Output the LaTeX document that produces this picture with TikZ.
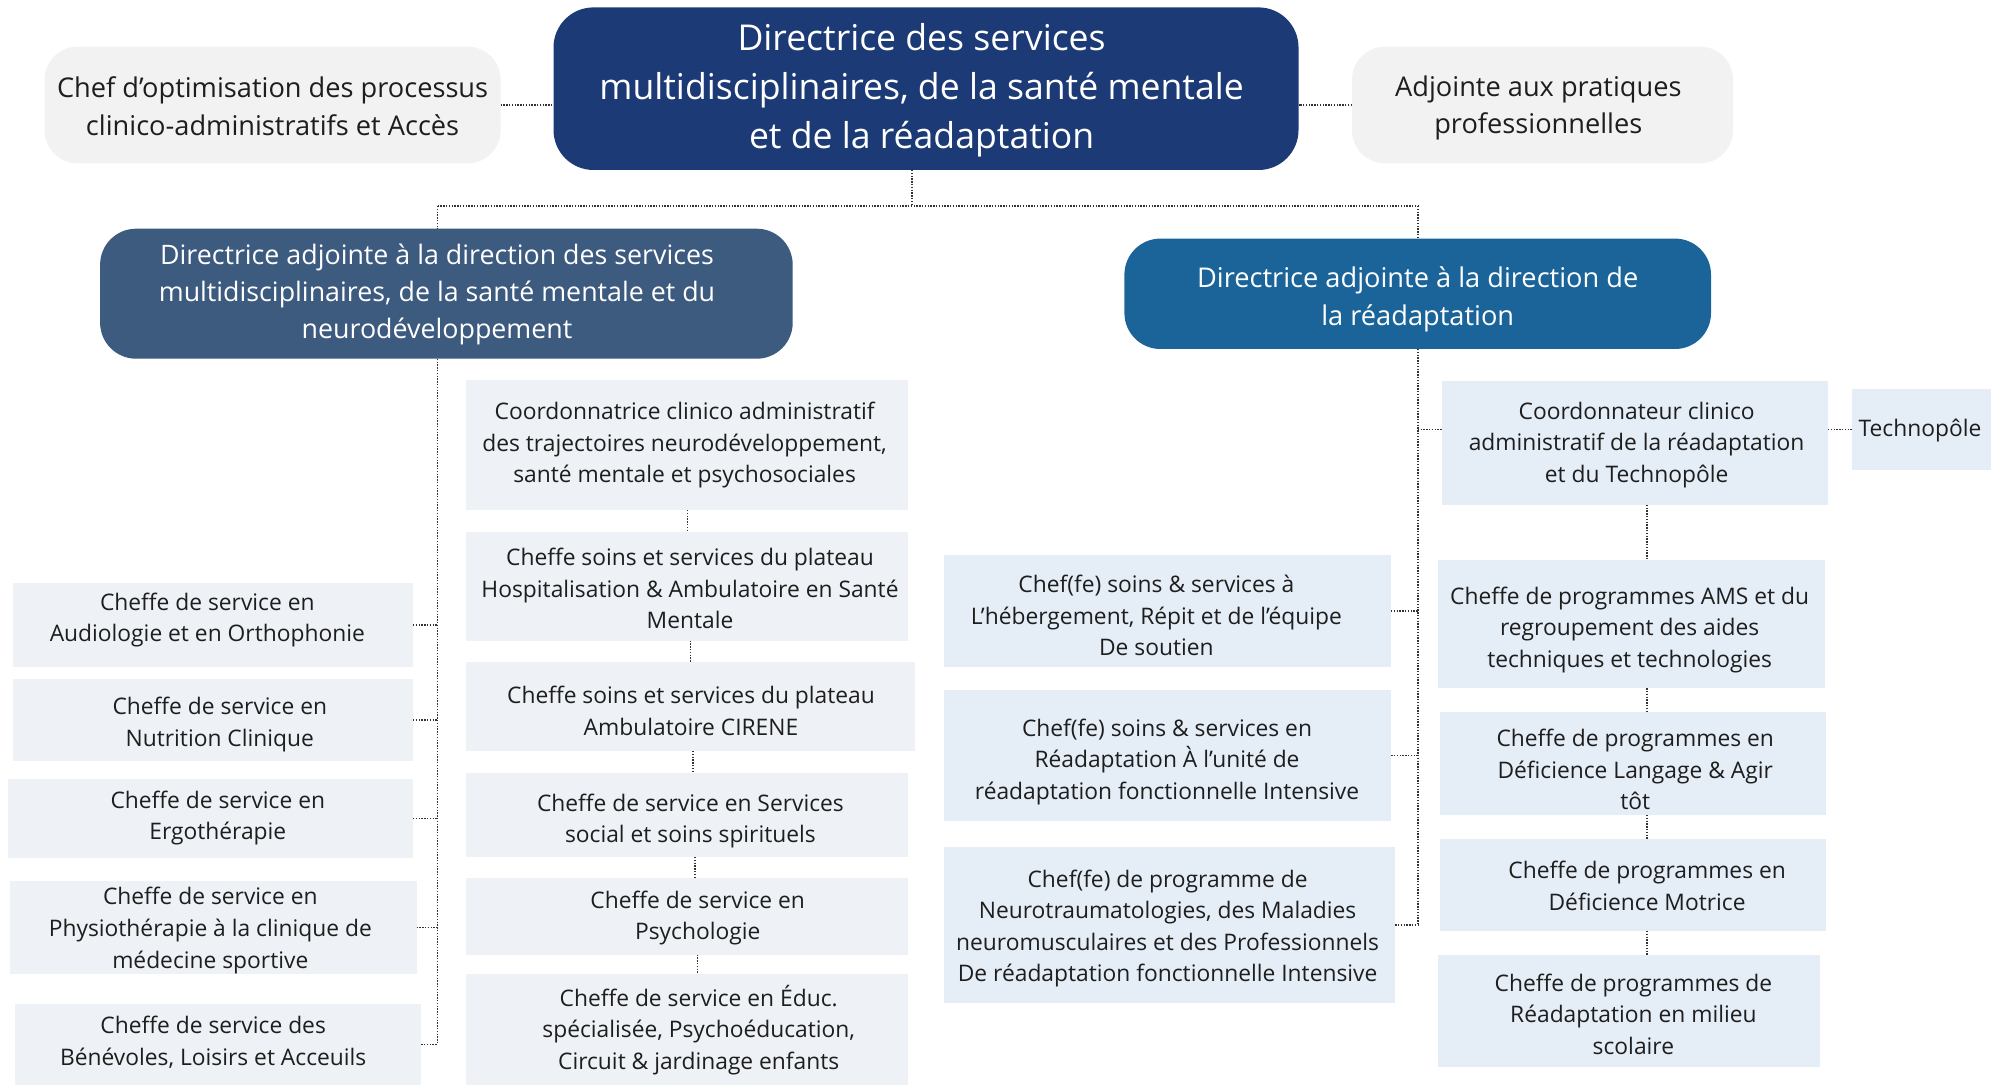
\documentclass[tikz,border=0pt]{standalone}
\usepackage{fontspec}
\setmainfont{Open Sans}
\definecolor{navy}{HTML}{1C3A75}
\definecolor{steel}{HTML}{3D5A7F}
\definecolor{ocean}{HTML}{1B6499}
\definecolor{grayB}{HTML}{F2F2F2}
\definecolor{boxL}{HTML}{EEF2F6}
\definecolor{boxR}{HTML}{E5EDF7}
\definecolor{textD}{HTML}{1E1E1E}
\begin{document}
\begin{tikzpicture}[x=0.5pt,y=-0.5pt,
  conn/.style={draw=black!80, line width=0.8pt, dash pattern=on 0.7pt off 0.7pt},
  shape base/.style={draw=none, inner sep=0pt, outer sep=0pt},
  lbox/.style={shape base, fill=boxL},
  rbox/.style={shape base, fill=boxR},
  gbox/.style={shape base, fill=grayB, rounded corners=16.5pt},
  dbox/.style={shape base, rounded corners=18pt},
  txt/.style={align=center, inner sep=0pt, text=textD, yshift=-1pt, font=\fontsize{11.4pt}{15.8pt}\selectfont},
  mtxt/.style={align=center, inner sep=0pt, text=textD, yshift=-1.2pt, font=\fontsize{13.6pt}{18.7pt}\selectfont},
  wtxt/.style={align=center, inner sep=0pt, text=white, yshift=-1.3pt, font=\fontsize{13.6pt}{18.7pt}\selectfont},
  ttxt/.style={align=center, inner sep=0pt, text=white, yshift=-1.5pt, font=\fontsize{17.8pt}{24.5pt}\selectfont}]
\fill[white] (0,0) rectangle (2000,1085);
\useasboundingbox (0,0) rectangle (2000,1085);

% ---------- top row ----------
\node[gbox, minimum width=228pt, minimum height=58.3pt] (opt) at (272.6,105) {};
\node[mtxt, yshift=0.7pt] (optT) at (272.6,105.3) {Chef d’optimisation des processus\\clinico-administratifs et Accès};
\node[dbox, fill=navy, rounded corners=20pt, minimum width=372.5pt, minimum height=81.3pt] (top) at (926,88.7) {};
\node[ttxt] (topT) at (921.6,87.5) {Directrice des services\\multidisciplinaires, de la santé mentale\\et de la réadaptation};
\node[gbox, minimum width=190.5pt, minimum height=58.3pt] (adj) at (1542.5,105) {};
\node[mtxt] (adjT) at (1538.3,105.8) {Adjointe aux pratiques\\professionnelles};

% ---------- deputy directors ----------
\node[dbox, fill=steel, minimum width=346.3pt, minimum height=65pt] (ladj) at (446.4,293.7) {};
\node[wtxt, font=\fontsize{13.4pt}{18.5pt}\selectfont] (ladjT) at (437,291.7) {Directrice adjointe à la direction des services\\multidisciplinaires, de la santé mentale et du\\neurodéveloppement};
\node[dbox, fill=ocean, minimum width=293.3pt, minimum height=55.2pt] (radj) at (1417.7,293.8) {};
\node[wtxt, yshift=-0.5pt, font=\fontsize{13.6pt}{19.2pt}\selectfont] (radjT) at (1417.7,295.8) {Directrice adjointe à la direction de\\la réadaptation};

% ---------- left column ----------
\node[lbox, minimum width=200pt, minimum height=41.9pt] (aud) at (212.9,625.2) {};
\node[txt] (audT) at (207.3,618.2) {Cheffe de service en\\Audiologie et en Orthophonie};
\node[lbox, minimum width=200pt, minimum height=41pt] (nut) at (212.9,720) {};
\node[txt] (nutT) at (219.8,722.4) {Cheffe de service en\\Nutrition Clinique};
\node[lbox, minimum width=202.3pt, minimum height=39.5pt] (erg) at (210.7,818.5) {};
\node[txt] (ergT) at (217.8,816) {Cheffe de service en\\Ergothérapie};
\node[lbox, minimum width=203.5pt, minimum height=46.5pt] (phy) at (213,927.5) {};
\node[txt] (phyT) at (210.3,928.6) {Cheffe de service en\\Physiothérapie à la clinique de\\médecine sportive};
\node[lbox, minimum width=203.2pt, minimum height=40.7pt] (ben) at (217.9,1044.3) {};
\node[txt] (benT) at (213.2,1040) {Cheffe de service des\\Bénévoles, Loisirs et Acceuils};

% ---------- middle column ----------
\node[lbox, minimum width=221pt, minimum height=65pt] (coo) at (687,445) {};
\node[txt] (cooT) at (684.6,443.2) {Coordonnatrice clinico administratif\\des trajectoires neurodéveloppement,\\santé mentale et psychosociales};
\node[lbox, minimum width=221pt, minimum height=54.3pt] (hos) at (687,586.3) {};
\node[txt] (hosT) at (690,586.5) {Cheffe soins et services du plateau\\Hospitalisation \& Ambulatoire en Santé\\Mentale};
\node[lbox, minimum width=224.3pt, minimum height=44.5pt] (cir) at (690.3,706.5) {};
\node[txt] (cirT) at (691,708.6) {Cheffe soins et services du plateau\\Ambulatoire CIRENE};
\node[lbox, minimum width=221pt, minimum height=42pt] (soc) at (687,815) {};
\node[txt] (socT) at (690.4,819) {Cheffe de service en Services\\social et soins spirituels};
\node[lbox, minimum width=221pt, minimum height=38.3pt] (psy) at (687,916.3) {};
\node[txt] (psyT) at (697.7,916) {Cheffe de service en\\Psychologie};
\node[lbox, minimum width=221pt, minimum height=55.8pt] (edu) at (687,1029.3) {};
\node[txt] (eduT) at (698.7,1028) {Cheffe de service en Éduc.\\spécialisée, Psychoéducation,\\Circuit \& jardinage enfants};

% ---------- right-middle column ----------
\node[rbox, minimum width=223.5pt, minimum height=56.4pt] (heb) at (1167.5,611) {};
\node[txt] (hebT) at (1156.4,613.4) {Chef(fe) soins \& services à\\L’hébergement, Répit et de l’équipe\\De soutien};
\node[rbox, minimum width=223.8pt, minimum height=65.7pt] (rea) at (1167.3,755.3) {};
\node[txt] (reaT) at (1167,760) {Chef(fe) soins \& services en\\Réadaptation À l’unité de\\réadaptation fonctionnelle Intensive};
\node[rbox, minimum width=225.8pt, minimum height=77.9pt] (neu) at (1169.3,924.7) {};
\node[txt] (neuT) at (1167.6,926.6) {Chef(fe) de programme de\\Neurotraumatologies, des Maladies\\neuromusculaires et des Professionnels\\De réadaptation fonctionnelle Intensive};

% ---------- right column ----------
\node[rbox, minimum width=193pt, minimum height=62pt] (cor) at (1635,442.8) {};
\node[txt] (corT) at (1636.6,443) {Coordonnateur clinico\\administratif de la réadaptation\\et du Technopôle};
\node[rbox, minimum width=69.5pt, minimum height=40.7pt] (tec) at (1921.5,429.3) {};
\node[txt] (tecT) at (1920,429) {Technopôle};
\node[rbox, minimum width=193.3pt, minimum height=64.2pt] (ams) at (1631.3,623.9) {};
\node[txt] (amsT) at (1629.6,628) {Cheffe de programmes AMS et du\\regroupement des aides\\techniques et technologies};
\node[rbox, minimum width=193.3pt, minimum height=51.6pt] (lan) at (1632.8,763.4) {};
\node[txt] (lanT) at (1635.2,767.5) {Cheffe de programmes en\\Déficience Langage \& Agir\\tôt};
\node[rbox, minimum width=193.3pt, minimum height=45.8pt] (mot) at (1632.8,885.2) {};
\node[txt] (motT) at (1647.1,884) {Cheffe de programmes en\\Déficience Motrice};
\node[rbox, minimum width=191pt, minimum height=56pt] (sco) at (1629,1011) {};
\node[txt] (scoT) at (1633.4,1012) {Cheffe de programmes de\\Réadaptation en milieu\\scolaire};

% ---------- routing coordinates ----------
\coordinate (hb) at (912,206);
\coordinate (lbus) at (437.5,0);
\coordinate (rbus) at (1417.7,0);
\coordinate (rx) at (1647,0);
\coordinate (v1) at (687.5,0);
\coordinate (v2) at (690.5,0);
\coordinate (v3) at (693,0);
\coordinate (v4) at (695,0);
\coordinate (v5) at (697.5,0);

% ---------- connectors ----------
\draw[conn] (opt.east) -- (opt.east -| top.west);
\draw[conn] (adj.west) -- (adj.west -| top.east);
\draw[conn] (top.south -| hb) -- (hb);
\draw[conn] (lbus |- hb) -- (rbus |- hb);
\draw[conn] (lbus |- hb) -- (ladj.north -| lbus);
\draw[conn] (rbus |- hb) -- (radj.north -| rbus);

\draw[conn] (ladj.south -| lbus) -- (lbus |- ben.east);
\foreach \b in {aud,nut,erg,phy,ben} \draw[conn] (\b.east) -- (\b.east -| lbus);

\draw[conn] (coo.south -| v1) -- (hos.north -| v1);
\draw[conn] (hos.south -| v2) -- (cir.north -| v2);
\draw[conn] (cir.south -| v3) -- (soc.north -| v3);
\draw[conn] (soc.south -| v4) -- (psy.north -| v4);
\draw[conn] (psy.south -| v5) -- (edu.north -| v5);

\draw[conn] (radj.south -| rbus) -- (rbus |- neu.east);
\foreach \b in {heb,rea,neu} \draw[conn] (\b.east) -- (\b.east -| rbus);
\draw[conn] (rbus |- tec.west) -- (cor.west |- tec.west);
\draw[conn] (cor.east |- tec.west) -- (tec.west);

\draw[conn] (cor.south -| rx) -- (ams.north -| rx);
\draw[conn] (ams.south -| rx) -- (lan.north -| rx);
\draw[conn] (lan.south -| rx) -- (mot.north -| rx);
\draw[conn] (mot.south -| rx) -- (sco.north -| rx);
\end{tikzpicture}
\end{document}
